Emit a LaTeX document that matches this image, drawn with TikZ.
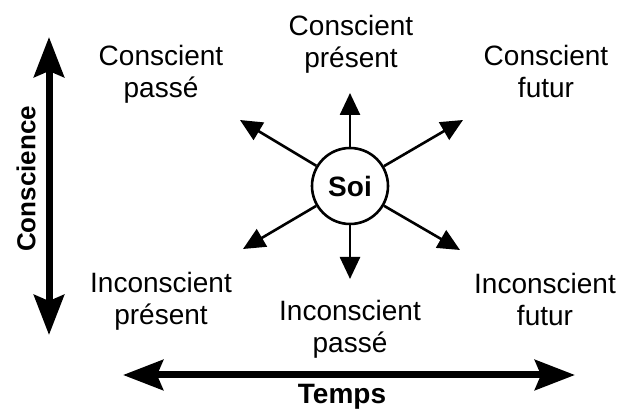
\documentclass[tikz,border=0pt]{standalone}
\usepackage{fontspec}
\setmainfont{Liberation Sans}
\usetikzlibrary{arrows.meta}

\begin{document}
\begin{tikzpicture}[x=1pt, y=-1pt, every node/.style={font=\fontsize{28}{32}\selectfont}, align=center]
  \tikzset{lbl/.style={anchor=north, inner sep=0pt, align=center}, arr/.style={-{Triangle[length=22pt, width=20pt]}, line width=2.6pt}, axe/.style={{Stealth[length=40pt, width=30pt, inset=6pt]}-{Stealth[length=40pt, width=30pt, inset=6pt]}, line width=7pt}}
  \useasboundingbox (0,0) rectangle (622,414);
  \node[circle, draw, line width=2.6pt, minimum size=76pt, inner sep=0pt, font=\fontsize{28}{32}\selectfont\bfseries] (soi) at (350,186) {Soi};
  \node[lbl] (cpresent) at (351,15) {Conscient\\présent};
  \node[lbl] (cpasse) at (161,45) {Conscient\\passé};
  \node[lbl] (cfutur) at (546,45) {Conscient\\futur};
  \node[lbl] (ipresent) at (161,272) {Inconscient\\présent};
  \node[lbl] (ipasse) at (350,300) {Inconscient\\passé};
  \node[lbl] (ifutur) at (545,273) {Inconscient\\futur};
  \coordinate (hn) at (350,93);
  \coordinate (hs) at (350,279);
  \coordinate (hno) at (240,120);
  \coordinate (hne) at (463,120);
  \coordinate (hso) at (243,249);
  \coordinate (hse) at (460,250);
  \draw[arr] (soi) -- (hn);
  \draw[arr] (soi) -- (hs);
  \draw[arr] (soi) -- (hno);
  \draw[arr] (soi) -- (hne);
  \draw[arr] (soi) -- (hso);
  \draw[arr] (soi) -- (hse);
  % axes
  \coordinate (chaut) at (49,37);
  \coordinate (cbas) at (49,335);
  \coordinate (tgauche) at (123,375);
  \coordinate (tdroite) at (575,375);
  \draw[axe] (chaut) -- (cbas);
  \draw[axe] (tgauche) -- (tdroite);
  \node[rotate=90, font=\fontsize{26}{30}\selectfont\bfseries] (conscience) at (26,179) {Conscience};
  \node[anchor=base, inner sep=0pt, font=\fontsize{28}{32}\selectfont\bfseries] (temps) at (342,403) {Temps};
\end{tikzpicture}
\end{document}
